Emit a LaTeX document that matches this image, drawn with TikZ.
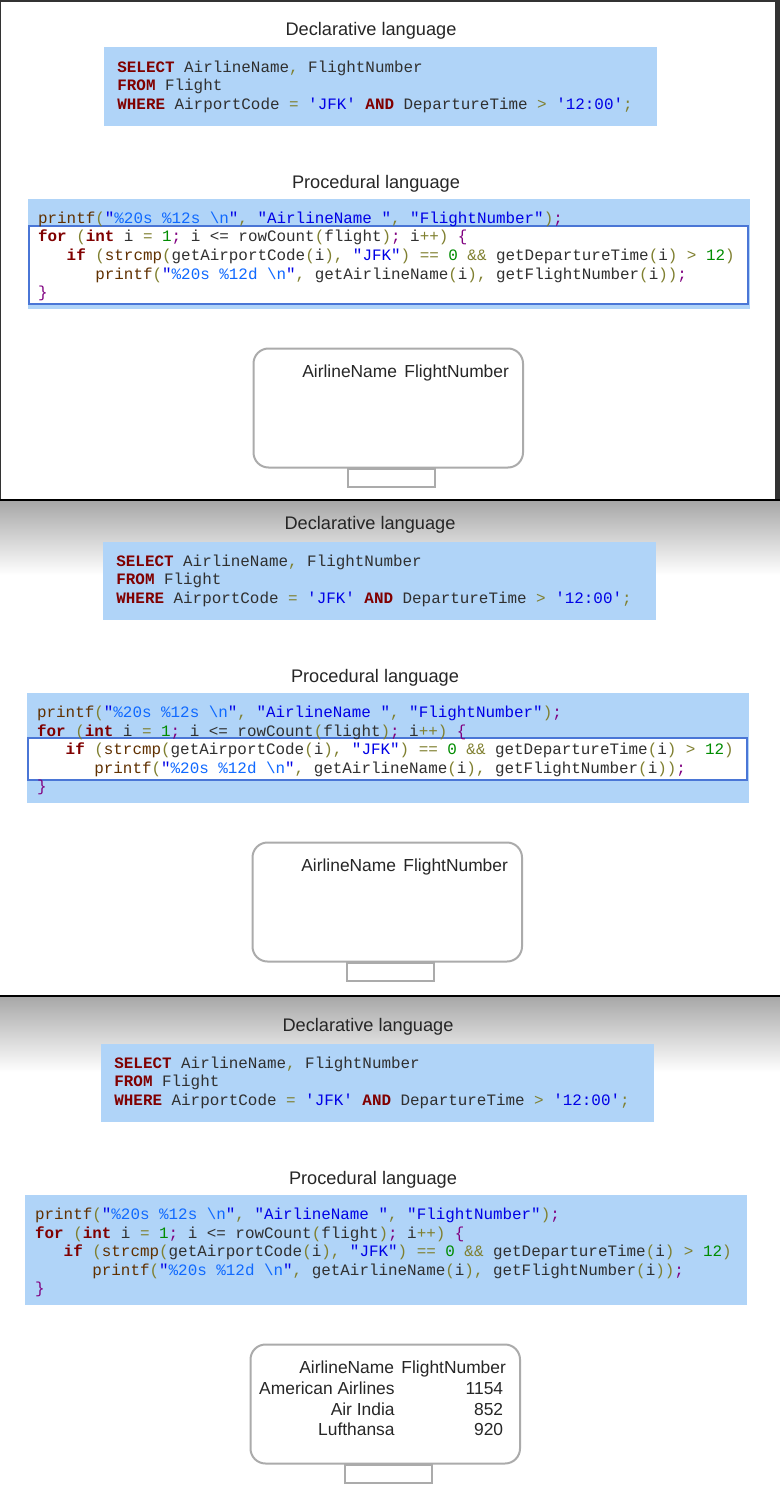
\documentclass[tikz,border=0pt]{standalone}
\usepackage{fontspec}
\setmainfont{Liberation Sans}
\setmonofont{Liberation Mono}
\usetikzlibrary{positioning}
\definecolor{codebg}{HTML}{B0D4F8}
\definecolor{hilite}{HTML}{4A76D6}
\definecolor{kwred}{HTML}{800000}
\definecolor{opolive}{HTML}{808030}
\definecolor{strblue}{HTML}{0000E6}
\definecolor{fmtblue}{HTML}{0F69FF}
\definecolor{numgreen}{HTML}{008C00}
\definecolor{punct}{HTML}{800080}
\definecolor{fnbrown}{HTML}{603000}
\definecolor{idgray}{HTML}{303030}
\definecolor{framegray}{HTML}{333333}
\newcommand{\kw}[1]{\textcolor{kwred}{\textbf{#1}}}
\newcommand{\op}[1]{\textcolor{opolive}{#1}}
\newcommand{\str}[1]{\textcolor{strblue}{#1}}
\newcommand{\fmt}[1]{\textcolor{fmtblue}{#1}}
\newcommand{\num}[1]{\textcolor{numgreen}{#1}}
\newcommand{\pu}[1]{\textcolor{punct}{#1}}
\newcommand{\fn}[1]{\textcolor{fnbrown}{#1}}

\begin{document}
\begin{tikzpicture}[x=0.5pt, y=-0.5pt,
  title/.style={font=\fontsize{9.1}{11}\selectfont, text=black!85, anchor=base, inner sep=0pt},
  code/.style={font=\fontsize{7.95}{9.3}\ttfamily\frenchspacing, text=idgray, anchor=base west, inner sep=0pt},
  codebox/.style={fill=codebg},
  hl/.style={draw=hilite, line width=1pt, fill=white},
  screen/.style={draw=black!33, line width=1pt, rounded corners=7.5pt},
  stand/.style={draw=black!33, line width=1pt},
  cell/.style={font=\fontsize{8.7}{10}\selectfont, text=black!85, anchor=base east, inner sep=0pt}
]
  \useasboundingbox (0,0) rectangle (780,1498);
  % window frames and shaded tops
  \fill[framegray] (0,0) rectangle (780,2.5);
  \fill[framegray] (0,0) rectangle (1.2,499);
  \fill[framegray] (775,0) rectangle (780,499);
  \fill[black] (0,499.3) rectangle (780,501.7);
  \shade[top color=black!34, bottom color=white] (0,501.7) rectangle (780,575);
  \fill[black] (0,995) rectangle (780,997.3);
  \shade[top color=black!34, bottom color=white] (0,997.3) rectangle (780,1072);

  \foreach \p/\dx/\dy in {1/0/0, 2/-1/494, 3/-3/996}{
    \begin{scope}[shift={(\dx,\dy)}]
      % declarative
      \node[title] (decl\p) at (371,35.3) {Declarative language};
      \fill[codebox] (104,47.5) rectangle (657,126);
      \node[code] (sqlA\p) at (117,72.3) {\kw{SELECT} AirlineName\op{,} FlightNumber};
      \node[code] (sqlB\p) at (117,90.8) {\kw{FROM} Flight};
      \node[code] (sqlC\p) at (117,109.3) {\kw{WHERE} AirportCode \op{=} \str{'JFK'} \kw{AND} DepartureTime \op{>} \str{'12:00'}\op{;}};
      % procedural
      \node[title] (proc\p) at (376,188.3) {Procedural language};
      \fill[codebox] (28,199) rectangle (750,308.5);
      \ifnum\p=1 \draw[hl] (28.5,226) rectangle (748,303.5); \fi
      \ifnum\p=2 \draw[hl] (28.5,244) rectangle (748,286); \fi
      \node[code] (cA\p) at (37.7,223.4) {\fn{printf}\op{(}\str{"}\fmt{\%20s \%12s \textbackslash n}\str{"}\op{,} \str{"AirlineName "}\op{,} \str{"FlightNumber"}\op{)}\pu{;}};
      \node[code] (cB\p) at (37.7,242) {\kw{for} \op{(}\kw{int} i \op{=} \num{1}\pu{;} i <= rowCount\op{(}flight\op{)}\pu{;} i\op{++)} \pu{\{}};
      \node[code] (cC\p) at (37.7,260.6) {\hphantom{xxx}\kw{if} \op{(}\fn{strcmp}\op{(}getAirportCode\op{(}i\op{),} \str{"JFK"}\op{)} \op{==} \num{0} \op{\&\&} getDepartureTime\op{(}i\op{)} \op{>} \num{12}\op{)}};
      \node[code] (cD\p) at (37.7,279.2) {\hphantom{xxxxxx}\fn{printf}\op{(}\str{"}\fmt{\%20s \%12d \textbackslash n}\str{"}\op{,} getAirlineName\op{(}i\op{),} getFlightNumber\op{(}i\op{))}\pu{;}};
      \node[code] (cE\p) at (37.7,297.8) {\pu{\}}};
      % result screen
      \draw[screen] (253.5,348.5) rectangle (523,467.5);
      \draw[stand] (347.5,468.5) rectangle (435,486.5);
      \node[cell] (hName\p) at (397.5,377) {AirlineName};
      \node[cell] (hNum\p) at (509.3,377) {FlightNumber};
    \end{scope}
  }

  % rows of the result
  \begin{scope}[shift={(-3,996)}]
    \node[cell] (rA) at (398,398) {American Airlines};
    \node[cell] (nA) at (506.5,398) {1154};
    \node[cell] (rB) at (398,419) {Air India};
    \node[cell] (nB) at (506.5,419) {852};
    \node[cell] (rC) at (398,439.5) {Lufthansa};
    \node[cell] (nC) at (506.5,439.5) {920};
  \end{scope}
\end{tikzpicture}
\end{document}
